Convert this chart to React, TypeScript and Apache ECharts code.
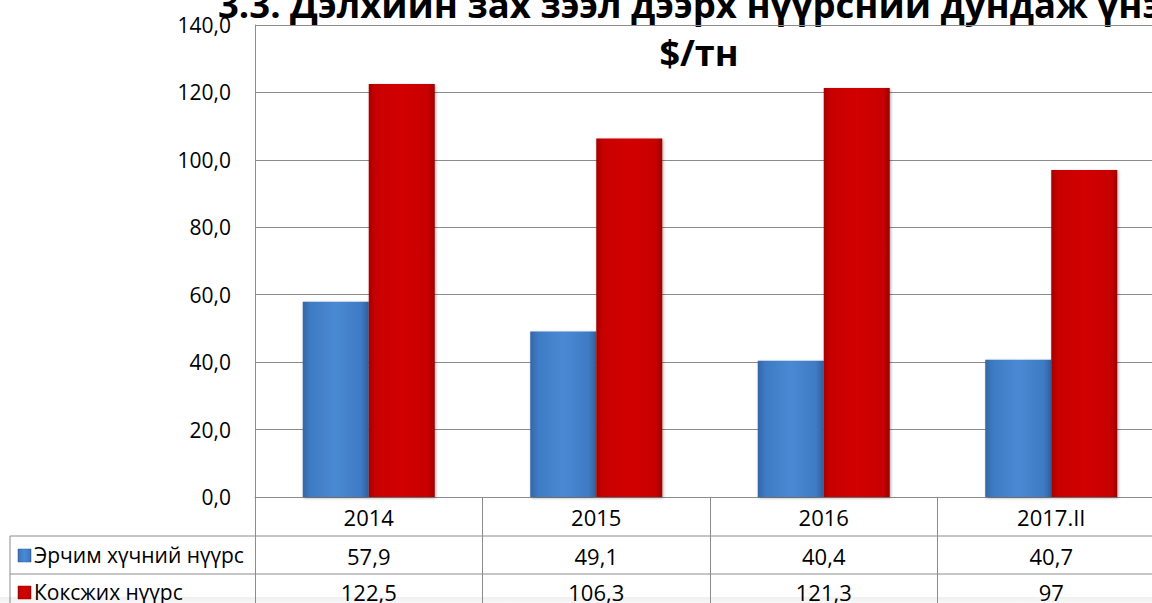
import React, { useEffect, useRef } from "react";
import * as echarts from "echarts";

const titleText = "3.3. Дэлхийн зах зээл дээрх нүүрсний дундаж үнэ";
const unitText = "$/тн";
const categories = ["2014", "2015", "2016", "2017.II"];
const seriesNames = ["Эрчим хүчний нүүрс", "Коксжих нүүрс"];
const thermalCoal = [57.9, 49.1, 40.4, 40.7];
const cokingCoal = [122.5, 106.3, 121.3, 97];
const yTicks = { min: 0, max: 140, interval: 20 };

const fmt = (v: number) => String(v).replace(".", ",");
const FONT = "'Open Sans', 'Noto Sans', sans-serif";
const GRID_COLOR = "#8c8c8c";
const CHART_W = 1165;

const blueGrad = () =>
  new echarts.graphic.LinearGradient(0, 0, 1, 0, [
    { offset: 0, color: "#3466a8" },
    { offset: 0.12, color: "#3f7bc4" },
    { offset: 0.5, color: "#4a89d4" },
    { offset: 0.88, color: "#3f7bc4" },
    { offset: 1, color: "#30609e" },
  ]);
const redGrad = () =>
  new echarts.graphic.LinearGradient(0, 0, 1, 0, [
    { offset: 0, color: "#a50000" },
    { offset: 0.1, color: "#c80000" },
    { offset: 0.5, color: "#d20202" },
    { offset: 0.9, color: "#c80000" },
    { offset: 1, color: "#9c0000" },
  ]);

export default function App() {
  const ref = useRef<HTMLDivElement>(null);
  useEffect(() => {
    if (!ref.current) return;
    const chart = echarts.init(ref.current, null, { renderer: "svg" });
    const labelStyle = { fontFamily: FONT, fontSize: 22, color: "#000" };
    const tableAxis = (data: string[], offset: number) => ({
      type: "category",
      data,
      position: "bottom",
      offset,
      axisLine: { show: false },
      axisTick: { show: false },
      axisLabel: { ...labelStyle, interval: 0, margin: 20, verticalAlign: "middle" },
    });
    const barStyle = {
      borderWidth: 0,
      shadowColor: "rgba(0,0,0,0.35)",
      shadowBlur: 3,
      shadowOffsetX: 1,
      shadowOffsetY: 1,
    };
    chart.setOption({
      animation: false,
      backgroundColor: "#fff",
      grid: { left: 255, right: 0, top: 25, bottom: 106, containLabel: false },
      xAxis: [
        {
          type: "category",
          data: categories,
          position: "bottom",
          axisLine: { show: true, lineStyle: { color: GRID_COLOR } },
          axisTick: { show: true, length: 106, alignWithLabel: false, lineStyle: { color: GRID_COLOR } },
          axisLabel: { ...labelStyle, interval: 0, margin: 20, verticalAlign: "middle" },
        },
        tableAxis(thermalCoal.map(fmt), 39),
        tableAxis(cokingCoal.map(fmt), 75),
      ],
      yAxis: {
        type: "value",
        min: yTicks.min,
        max: yTicks.max,
        interval: yTicks.interval,
        axisLine: { show: true, lineStyle: { color: GRID_COLOR } },
        axisTick: { show: false },
        splitLine: { show: true, lineStyle: { color: GRID_COLOR, width: 1 } },
        axisLabel: {
          fontFamily: FONT,
          fontSize: 21,
          color: "#000",
          margin: 24,
          formatter: (v: number) => v.toFixed(1).replace(".", ","),
        },
      },
      series: [
        {
          name: seriesNames[0],
          type: "bar",
          data: thermalCoal,
          barWidth: 66,
          barGap: "0%",
          itemStyle: { color: blueGrad(), ...barStyle },
        },
        {
          name: seriesNames[1],
          type: "bar",
          data: cokingCoal,
          barWidth: 66,
          barGap: "0%",
          itemStyle: { color: redGrad(), ...barStyle },
        },
      ],
      graphic: [
        {
          type: "text",
          x: 218,
          y: 4,
          style: {
            text: titleText,
            font: `bold 36.5px ${FONT}`,
            fill: "#000",
            align: "left",
            verticalAlign: "middle",
          },
        },
        {
          type: "text",
          x: 699,
          y: 52,
          style: {
            text: unitText,
            font: `bold 36px ${FONT}`,
            fill: "#000",
            align: "center",
            verticalAlign: "middle",
          },
        },
        { type: "line", shape: { x1: 10, y1: 536, x2: CHART_W, y2: 536 }, style: { stroke: GRID_COLOR, lineWidth: 1 } },
        { type: "line", shape: { x1: 10, y1: 574, x2: CHART_W, y2: 574 }, style: { stroke: GRID_COLOR, lineWidth: 1 } },
        { type: "line", shape: { x1: 10, y1: 536, x2: 10, y2: 603 }, style: { stroke: GRID_COLOR, lineWidth: 1 } },
        { type: "rect", shape: { x: 18, y: 549, width: 13, height: 13 }, style: { fill: blueGrad(), stroke: "#2f5f9e", lineWidth: 0.5 } },
        { type: "rect", shape: { x: 18, y: 586, width: 13, height: 13 }, style: { fill: redGrad(), stroke: "#900000", lineWidth: 0.5 } },
        {
          type: "text",
          x: 34,
          y: 555,
          style: { text: seriesNames[0], font: `21px ${FONT}`, fill: "#000", align: "left", verticalAlign: "middle" },
        },
        {
          type: "text",
          x: 34,
          y: 592,
          style: { text: seriesNames[1], font: `21px ${FONT}`, fill: "#000", align: "left", verticalAlign: "middle" },
        },
        {
          type: "rect",
          shape: { x: 0, y: 597, width: CHART_W, height: 6 },
          style: {
            fill: new echarts.graphic.LinearGradient(0, 0, 0, 1, [
              { offset: 0, color: "rgba(0,0,0,0.06)" },
              { offset: 1, color: "rgba(0,0,0,0.03)" },
            ]),
          },
        },
      ],
    });
    return () => chart.dispose();
  }, []);
  return (
    <div
      style={{ position: "fixed", left: 0, top: 0, width: 1152, height: 603, overflow: "hidden", background: "#fff" }}
    >
      <div ref={ref} style={{ width: CHART_W, height: 603 }} />
    </div>
  );
}
